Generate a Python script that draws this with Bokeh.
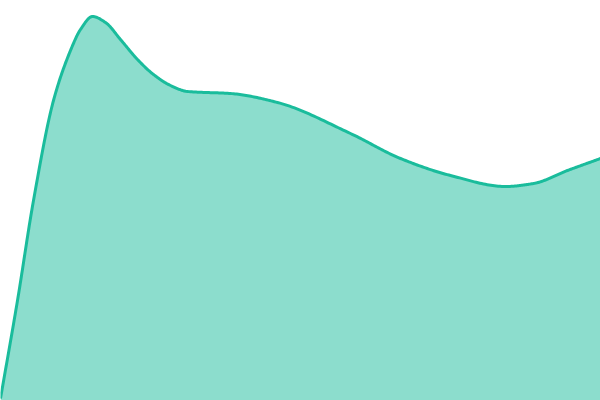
import numpy as np
from bokeh.plotting import figure
from bokeh.models import Range1d
from bokeh.embed import file_html
from bokeh.resources import INLINE

# data (x position, value above baseline)
xs = [0, 17, 33, 53, 70, 80, 92, 105, 120, 137, 153, 170, 187, 230, 277, 350,
      400, 450, 505, 533, 567, 600]
y_px = [398, 300, 200, 100, 50, 29, 16, 22, 39, 59, 74, 85, 91, 93, 102, 133,
        158, 175, 186, 183, 170, 158]
values = [400 - v for v in y_px]


def monotone_smooth(x, y, n=30):
    x = np.asarray(x, float)
    y = np.asarray(y, float)
    h = np.diff(x)
    d = np.diff(y) / h
    m = np.zeros_like(y)
    for k in range(1, len(x) - 1):
        if d[k - 1] * d[k] > 0:
            w1 = 2 * h[k] + h[k - 1]
            w2 = h[k] + 2 * h[k - 1]
            m[k] = (w1 + w2) / (w1 / d[k - 1] + w2 / d[k])
    m[0] = d[0]
    m[-1] = d[-1]
    ox, oy = [], []
    for i in range(len(x) - 1):
        t = np.linspace(0, 1, n, endpoint=False)
        h00 = 2 * t**3 - 3 * t**2 + 1
        h10 = t**3 - 2 * t**2 + t
        h01 = -2 * t**3 + 3 * t**2
        h11 = t**3 - t**2
        ox.extend(x[i] + t * h[i])
        oy.extend(h00 * y[i] + h10 * h[i] * m[i] + h01 * y[i + 1] + h11 * h[i] * m[i + 1])
    ox.append(x[-1])
    oy.append(y[-1])
    return np.array(ox), np.array(oy)


sx, sy = monotone_smooth(xs, values)

p = figure(width=600, height=400, output_backend="svg", toolbar_location=None,
           x_range=Range1d(0, 600), y_range=Range1d(0, 400), min_border=0)
p.axis.visible = False
p.grid.visible = False
p.outline_line_color = None
p.background_fill_color = "white"
p.border_fill_color = "white"

p.varea(x=sx, y1=np.zeros_like(sy), y2=sy, fill_color="#1abc9c", fill_alpha=0.5)
p.line(x=sx, y=sy, line_color="#1abc9c", line_width=3, line_join="round")

open("out.html", "w").write(file_html(p, INLINE))
